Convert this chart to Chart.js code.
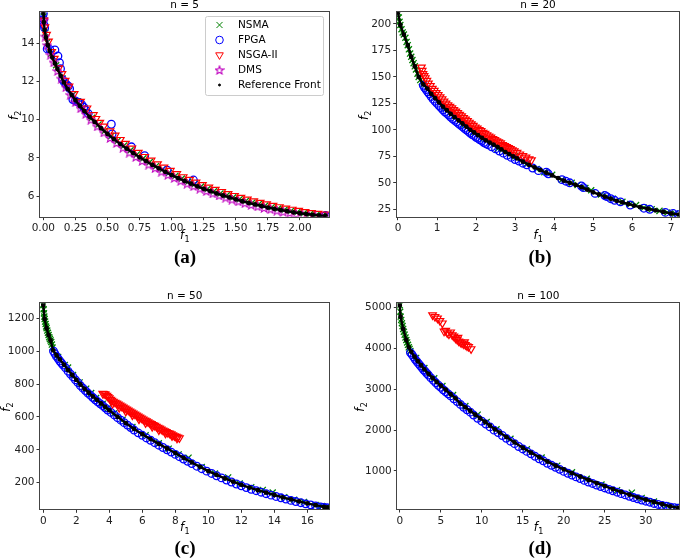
<!DOCTYPE html>
<html>
<head>
<meta charset="utf-8">
<script src="https://cdn.jsdelivr.net/npm/chart.js@4.4.1/dist/chart.umd.min.js"></script>
<style>
  html, body { margin: 0; padding: 0; background: #fff; }
  #wrap { position: relative; width: 685px; height: 559px; overflow: hidden; }
  #wrap canvas { position: absolute; left: 0; top: 0; }
  .cap { position: absolute; font: bold 19px "Liberation Serif", "DejaVu Serif", serif; color: #000;
         transform: translate(-50%, -50%); white-space: nowrap; }
</style>
</head>
<body>
<div id="wrap">
  <canvas id="pa" width="685" height="559"></canvas>
  <canvas id="pb" width="685" height="559"></canvas>
  <canvas id="pc" width="685" height="559"></canvas>
  <canvas id="pd" width="685" height="559"></canvas>
  <div class="cap" style="left:185px;top:257px">(a)</div>
  <div class="cap" style="left:540px;top:257px">(b)</div>
  <div class="cap" style="left:185px;top:548px">(c)</div>
  <div class="cap" style="left:540px;top:548px">(d)</div>
</div>
<script>
// ---- panel (a), n = 5 ----
var titleA = 'n = 5';
var xTicksA = [0, 0.25, 0.5, 0.75, 1.0, 1.25, 1.5, 1.75, 2.0];
var yTicksA = [6, 8, 10, 12, 14];
var xRangeA = [-0.026, 2.229];
var yRangeA = [4.92, 15.62];
var refA = [[0.000,15.60],[0.004,15.10],[0.010,14.70],[0.020,14.30],[0.035,13.90],[0.050,13.60],[0.070,13.25],[0.090,12.95],[0.110,12.65],[0.135,12.30],[0.160,11.95],[0.190,11.60],[0.220,11.30],[0.250,11.02],[0.285,10.72],[0.320,10.45],[0.360,10.15],[0.400,9.88],[0.450,9.55],[0.500,9.25],[0.550,8.98],[0.600,8.72],[0.650,8.48],[0.700,8.25],[0.750,8.03],[0.800,7.83],[0.850,7.63],[0.900,7.45],[0.950,7.27],[1.000,7.10],[1.050,6.94],[1.100,6.79],[1.150,6.65],[1.200,6.51],[1.250,6.38],[1.300,6.26],[1.350,6.14],[1.400,6.03],[1.450,5.93],[1.500,5.83],[1.550,5.73],[1.600,5.64],[1.650,5.56],[1.700,5.48],[1.750,5.40],[1.800,5.33],[1.850,5.27],[1.900,5.21],[1.950,5.15],[2.000,5.10],[2.050,5.06],[2.100,5.02],[2.150,4.99],[2.200,4.97]];
var nsmaA = [[0.002,15.40],[0.015,14.55],[0.030,14.05],[0.060,13.45],[0.100,12.85],[0.150,12.15],[0.180,11.80],[0.230,11.30],[0.270,10.95],[0.310,10.62],[0.380,10.10],[0.430,9.75],[0.480,9.42],[0.530,9.15],[0.580,8.90],[0.630,8.65],[0.680,8.40],[0.730,8.18],[0.780,7.98],[0.830,7.78],[0.880,7.58],[0.930,7.40],[0.980,7.22],[1.030,7.06],[1.080,6.92],[1.130,6.76],[1.180,6.63],[1.230,6.50],[1.280,6.37],[1.330,6.25],[1.380,6.14],[1.430,6.04],[1.480,5.94],[1.530,5.84],[1.580,5.75],[1.630,5.66],[1.680,5.58],[1.730,5.50],[1.780,5.42],[1.830,5.35],[1.880,5.28],[1.930,5.22],[1.980,5.16],[2.030,5.10],[2.080,5.06],[2.130,5.02],[2.180,4.99]];
var fpgaA = [[0.000,15.55],[0.003,15.25],[0.006,14.95],[0.010,14.80],[0.030,13.70],[0.050,13.68],[0.090,13.65],[0.114,13.33],[0.126,12.98],[0.134,12.67],[0.150,12.10],[0.165,11.95],[0.180,11.85],[0.195,11.75],[0.205,11.62],[0.230,11.05],[0.250,10.98],[0.270,10.92],[0.285,10.88],[0.300,10.78],[0.315,10.65],[0.330,10.50],[0.350,10.32],[0.530,9.76],[0.536,9.25],[0.687,8.58],[0.790,8.11],[0.965,7.36],[1.170,6.84],[2.200,4.98]];
var nsgaA = [[0.005,15.20],[0.012,14.85],[0.025,14.45],[0.040,14.10],[0.065,13.55],[0.085,13.20],[0.120,12.70],[0.145,12.40],[0.170,12.05],[0.200,11.75],[0.240,11.35],[0.290,10.95],[0.340,10.60],[0.390,10.25],[0.410,10.05],[0.440,9.85],[0.470,9.65],[0.520,9.40],[0.560,9.18],[0.600,8.95],[0.640,8.75],[0.690,8.50],[0.740,8.28],[0.790,8.06],[0.840,7.87],[0.890,7.68],[0.940,7.50],[0.990,7.33],[1.040,7.16],[1.090,7.00],[1.140,6.86],[1.190,6.72],[1.240,6.59],[1.290,6.46],[1.340,6.34],[1.390,6.23],[1.440,6.12],[1.490,6.02],[1.540,5.92],[1.590,5.83],[1.640,5.74],[1.690,5.66],[1.740,5.58],[1.790,5.50],[1.840,5.43],[1.890,5.36],[1.940,5.30],[1.990,5.24],[2.040,5.18],[2.090,5.12],[2.140,5.08],[2.190,5.04]];
var dmsA = [[0.003,15.20],[0.015,14.35],[0.030,13.90],[0.055,13.40],[0.080,13.00],[0.110,12.55],[0.140,12.15],[0.175,11.70],[0.210,11.30],[0.250,10.92],[0.290,10.60],[0.330,10.30],[0.370,10.00],[0.420,9.65],[0.470,9.33],[0.520,9.04],[0.570,8.78],[0.620,8.53],[0.670,8.28],[0.720,8.05],[0.770,7.84],[0.820,7.65],[0.870,7.46],[0.920,7.28],[0.970,7.11],[1.020,6.95],[1.070,6.80],[1.120,6.65],[1.170,6.52],[1.220,6.39],[1.270,6.26],[1.320,6.14],[1.370,6.03],[1.420,5.92],[1.470,5.82],[1.520,5.72],[1.570,5.63],[1.620,5.54],[1.670,5.46],[1.720,5.38],[1.770,5.31],[1.820,5.24],[1.870,5.18],[1.920,5.12],[1.970,5.06],[2.020,5.01],[2.070,4.97],[2.120,4.94],[2.170,4.93],[2.210,4.93]];

// ---- panel (b), n = 20 ----
var titleB = 'n = 20';
var xTicksB = [0, 1, 2, 3, 4, 5, 6, 7];
var yTicksB = [25, 50, 75, 100, 125, 150, 175, 200];
var xRangeB = [-0.033, 7.21];
var yRangeB = [18, 211];
var refB = [[0.00,211],[0.06,199],[0.15,190],[0.25,180],[0.34,169],[0.43,160],[0.53,150],[0.65,143],[0.75,139],[0.85,134],[0.95,130],[1.05,126],[1.15,122],[1.25,118.5],[1.35,115],[1.45,112],[1.55,109],[1.65,106],[1.75,103],[1.85,100],[1.95,97.5],[2.05,95],[2.15,92.5],[2.25,90],[2.35,88],[2.45,86],[2.55,84],[2.65,81.5],[2.75,79],[2.85,77],[2.95,75],[3.05,73],[3.2,70],[3.35,67],[3.5,64.5],[3.65,62],[3.8,59.5],[3.95,57],[4.1,54.5],[4.25,52],[4.4,50],[4.55,48],[4.7,46],[4.85,43.5],[5.0,41],[5.15,39],[5.3,37],[5.45,35],[5.6,33],[5.75,31.5],[5.9,30],[6.05,28.5],[6.2,27],[6.4,25.5],[6.6,24],[6.8,22.5],[7.0,21],[7.2,20]];
var nsmaB = [[0.00,211],[0.02,206],[0.04,202],[0.06,199],[0.09,195],[0.12,192],[0.15,190],[0.19,187],[0.22,183],[0.25,180],[0.28,176],[0.31,172],[0.34,169],[0.37,166],[0.40,163],[0.43,160],[0.46,157],[0.50,153],[0.53,150],[0.57,147],[0.61,145],[0.66,143],[0.9,133],[1.2,121],[1.45,113],[1.7,105],[1.95,98],[2.2,92],[2.4,88],[2.55,82],[2.75,80],[3.0,75],[3.3,68],[3.55,63],[3.75,60],[3.95,57.5],[4.2,53],[4.45,50],[4.6,48],[4.8,45],[4.95,43],[5.2,39],[5.35,37],[5.5,35],[5.75,32],[5.95,30],[6.1,29],[6.3,26.5],[6.5,25],[6.7,23.5],[6.9,22],[7.1,21]];
var fpgaB = [[0.65,142],[0.68,140],[0.72,138],[0.76,136],[0.80,134],[0.85,131.5],[0.90,129],[0.95,127],[1.00,125],[1.05,123],[1.10,121],[1.15,119],[1.20,117],[1.25,115.5],[1.30,114],[1.35,112],[1.40,110.5],[1.45,109],[1.50,107.5],[1.55,106],[1.60,104.5],[1.65,103],[1.70,101.5],[1.75,100],[1.80,98.5],[1.85,97],[1.90,95.5],[1.95,94.5],[2.00,93],[2.05,92],[2.10,90.5],[2.15,89.5],[2.20,88],[2.25,87],[2.30,86],[2.40,84],[2.50,82],[2.60,80],[2.70,78],[2.80,76],[2.90,74],[3.00,72],[3.10,70.5],[3.20,68.5],[3.30,67],[3.45,64],[3.60,61.5],[3.80,60],[3.85,58.5],[4.20,53],[4.30,51.5],[4.40,50],[4.70,47],[4.75,45.5],[5.05,40],[5.30,38],[5.35,37],[5.45,35],[5.55,33.5],[5.70,32],[5.95,29],[6.30,26],[6.45,25],[6.85,22],[7.05,21],[7.18,20]];
var nsgaB = [[0.60,159],[0.62,156],[0.64,153],[0.67,151],[0.70,149],[0.74,146.5],[0.78,144],[0.83,141.5],[0.88,139],[0.93,137],[0.98,135],[1.03,133],[1.08,131],[1.13,129],[1.18,127],[1.23,125],[1.28,123.5],[1.33,122],[1.38,120.5],[1.43,119],[1.48,117.5],[1.53,116],[1.58,114.5],[1.63,113],[1.68,111.5],[1.73,110],[1.78,108.5],[1.83,107],[1.88,105.5],[1.93,104],[1.98,102.5],[2.03,101.5],[2.08,100],[2.13,99],[2.18,97.5],[2.23,96.5],[2.28,95],[2.33,94],[2.38,93],[2.43,91.5],[2.48,90.5],[2.53,89.5],[2.58,88.5],[2.63,87.5],[2.68,86],[2.73,85],[2.78,84],[2.83,83],[2.88,82],[2.93,81],[2.98,80],[3.05,78.5],[3.12,77],[3.2,75.5],[3.28,74],[3.36,72.5],[3.42,71.5]];

// ---- panel (c), n = 50 ----
var titleC = 'n = 50';
var xTicksC = [0, 2, 4, 6, 8, 10, 12, 14, 16];
var yTicksC = [200, 400, 600, 800, 1000, 1200];
var xRangeC = [-0.2, 17.33];
var yRangeC = [38, 1291];
var refC = [[0.00,1280],[0.08,1195],[0.20,1140],[0.32,1098],[0.44,1065],[0.6,1005],[0.8,975],[1.0,950],[1.25,918],[1.5,885],[1.75,855],[2.0,825],[2.25,797],[2.5,770],[2.75,747],[3.0,725],[3.25,703],[3.5,682],[3.75,661],[4.0,640],[4.5,600],[5.0,562],[5.5,527],[6.0,495],[6.5,465],[7.0,436],[7.5,408],[8.0,380],[8.5,351],[9.0,323],[9.5,296],[10.0,270],[10.5,247],[11.0,226],[11.5,206],[12.0,187],[12.5,170],[13.0,154],[13.5,139],[14.0,125],[14.5,111],[15.0,98],[15.5,86],[16.0,74],[16.5,63],[17.0,53],[17.2,49]];
var nsmaC = [[0.00,1280],[0.02,1255],[0.04,1230],[0.06,1210],[0.08,1195],[0.11,1180],[0.14,1165],[0.17,1150],[0.20,1140],[0.24,1125],[0.28,1112],[0.32,1098],[0.36,1085],[0.40,1075],[0.44,1065],[0.48,1055],[0.52,1040],[0.56,1022],[0.9,965],[1.3,915],[1.5,900],[1.8,855],[2.2,810],[2.6,772],[2.9,745],[3.2,715],[3.6,680],[3.9,652],[4.3,622],[4.8,582],[5.4,538],[6.2,488],[7.0,440],[7.6,407],[8.2,372],[8.8,352],[9.6,295],[10.4,256],[11.2,232],[11.9,195],[12.6,172],[13.3,156],[13.9,140],[14.6,112],[15.2,96],[15.8,83],[16.5,64],[16.9,58],[17.2,52]];
var fpgaC = [[0.62,1000],[0.7,985],[0.8,968],[0.9,955],[1.0,940],[1.1,928],[1.2,915],[1.35,898],[1.5,878],[1.65,860],[1.8,843],[1.95,825],[2.1,808],[2.25,790],[2.4,775],[2.55,760],[2.7,745],[2.85,732],[3.0,718],[3.15,704],[3.3,692],[3.45,680],[3.6,668],[3.75,655],[3.9,642],[4.1,627],[4.3,612],[4.5,595],[4.7,580],[4.9,565],[5.1,550],[5.3,535],[5.5,520],[5.75,503],[6.0,488],[6.25,472],[6.5,458],[6.75,443],[7.0,428],[7.25,414],[7.5,400],[7.75,386],[8.0,372],[8.25,358],[8.5,344],[8.75,330],[9.0,316],[9.3,300],[9.6,285],[9.9,270],[10.2,256],[10.5,242],[10.8,229],[11.1,216],[11.4,204],[11.7,192],[12.0,181],[12.3,170],[12.6,160],[12.9,151],[13.2,142],[13.5,133],[13.8,124],[14.1,116],[14.4,108],[14.7,100],[15.0,92],[15.3,85],[15.6,78],[15.9,71],[16.2,65],[16.5,59],[16.8,53],[17.0,50],[17.2,47]];
var nsgaC = [[3.60,742],[3.68,740],[3.76,738],[3.85,730],[3.92,722],[4.00,714],[4.08,706],[4.15,700],[4.25,694],[4.35,688],[4.45,682],[4.55,676],[4.65,670],[4.75,664],[4.85,658],[4.95,652],[5.05,646],[5.15,640],[5.25,634],[5.35,628],[5.45,622],[5.55,616],[5.65,610],[5.75,604],[5.85,598],[5.95,592],[6.05,586],[6.15,580],[6.25,575],[6.35,569],[6.45,563],[6.55,558],[6.65,552],[6.75,547],[6.85,541],[6.95,536],[7.05,530],[7.15,524],[7.25,519],[7.35,514],[7.45,509],[7.55,504],[7.65,500],[7.75,496],[7.85,489],[7.95,484],[8.05,480],[8.15,476],[8.25,472],[4.2,680],[4.6,656],[5.0,633],[5.4,610],[5.8,586],[6.2,563],[6.6,540],[7.0,520],[7.4,500],[7.8,484],[8.1,470]];

// ---- panel (d), n = 100 ----
var titleD = 'n = 100';
var xTicksD = [0, 5, 10, 15, 20, 25, 30];
var yTicksD = [1000, 2000, 3000, 4000, 5000];
var xRangeD = [-0.3, 34.1];
var yRangeD = [69, 5108];
var refD = [[0.00,5060],[0.10,4780],[0.42,4480],[0.80,4210],[1.10,4030],[1.4,3920],[1.8,3800],[2.2,3690],[2.6,3590],[3.0,3490],[3.5,3380],[4.0,3280],[4.5,3180],[5.0,3090],[5.6,2990],[6.2,2880],[6.8,2780],[7.4,2650],[8.0,2560],[8.6,2470],[9.2,2380],[9.8,2290],[10.4,2200],[11.0,2110],[11.6,2020],[12.2,1940],[13.0,1830],[14.0,1700],[15.0,1570],[16.0,1450],[17.0,1340],[18.0,1230],[19.0,1130],[20.0,1040],[21.0,950],[22.0,860],[23.0,780],[24.0,705],[25.0,630],[26.0,555],[27.0,485],[28.0,420],[29.0,355],[30.0,295],[31.0,240],[32.0,185],[33.0,135],[34.0,95]];
var nsmaD = [[0.00,5060],[0.05,4900],[0.10,4780],[0.18,4700],[0.26,4620],[0.34,4550],[0.42,4480],[0.50,4410],[0.60,4340],[0.70,4270],[0.80,4210],[0.90,4150],[1.00,4090],[1.10,4030],[1.20,3990],[1.30,3940],[2.0,3770],[3.0,3520],[4.2,3270],[5.2,3080],[6.5,2860],[8.0,2590],[9.5,2380],[10.6,2200],[11.8,2020],[13.5,1790],[15.5,1530],[17.3,1330],[19.2,1130],[21.0,970],[22.8,810],[24.6,670],[26.5,530],[28.3,470],[29.5,340],[31.0,250],[32.5,160],[33.6,120],[34.0,110]];
var fpgaD = [[1.3,3900],[1.5,3850],[1.7,3790],[1.9,3730],[2.1,3680],[2.3,3630],[2.5,3580],[2.7,3530],[2.9,3480],[3.1,3440],[3.3,3390],[3.5,3350],[3.8,3280],[4.1,3220],[4.4,3160],[4.7,3100],[5.0,3050],[5.3,2990],[5.6,2940],[5.9,2890],[6.2,2840],[6.6,2770],[7.0,2700],[7.4,2630],[7.8,2560],[8.2,2500],[8.6,2440],[9.0,2370],[9.5,2290],[10.0,2220],[10.5,2150],[11.0,2080],[11.5,2000],[12.0,1940],[12.5,1870],[13.0,1800],[13.5,1730],[14.0,1670],[14.5,1600],[15.0,1540],[15.5,1480],[16.0,1420],[16.5,1360],[17.0,1300],[17.5,1250],[18.0,1190],[18.5,1140],[19.0,1090],[19.5,1040],[20.0,990],[20.5,945],[21.0,900],[21.5,855],[22.0,815],[22.5,770],[23.0,730],[23.5,695],[24.0,655],[24.5,620],[25.0,585],[25.5,550],[26.0,515],[26.5,480],[27.0,445],[27.5,415],[28.0,380],[28.5,350],[29.0,320],[29.5,290],[30.0,260],[30.5,235],[31.0,205],[31.5,180],[32.0,155],[32.5,135],[33.0,115],[33.5,100],[34.0,90]];
var nsgaD = [[4.0,4820],[4.3,4780],[4.6,4740],[4.9,4680],[5.2,4620],[5.4,4420],[5.6,4440],[5.8,4380],[6.0,4350],[6.2,4400],[6.4,4330],[6.6,4300],[6.8,4250],[7.0,4220],[7.1,4270],[7.2,4180],[7.4,4150],[7.6,4130],[7.8,4110],[7.9,4160],[8.0,4090],[8.2,4060],[8.4,4045],[8.7,3990]];

var legendNames = ['NSMA', 'FPGA', 'NSGA-II', 'DMS', 'Reference Front'];

var COLORS = { nsma: '#008000', fpga: '#0000ff', nsga: '#ff0000', dms: '#bf00bf', ref: '#000000' };
var FONT = '"DejaVu Sans", "Liberation Sans", sans-serif';

Chart.defaults.font.family = FONT;
Chart.defaults.animation = false;

// matplotlib '*' marker, hollow
function makeStar() {
    var c = document.createElement('canvas');
    c.width = 10; c.height = 10;
    var g = c.getContext('2d');
    g.strokeStyle = COLORS.dms;
    g.lineWidth = 1.1;
    g.beginPath();
    for (var i = 0; i < 10; i++) {
        var r = i % 2 ? 1.9 : 4.4;
        var ang = -Math.PI / 2 + i * Math.PI / 5;
        var px = 5 + r * Math.cos(ang), py = 5.4 + r * Math.sin(ang);
        if (i === 0) g.moveTo(px, py); else g.lineTo(px, py);
    }
    g.closePath();
    g.stroke();
    return c;
}
var starImg = makeStar();

function styleFor(key) {
    if (key === 'nsma') return { pointStyle: 'crossRot', pointRadius: 4.3, borderWidth: 1.3, borderColor: COLORS.nsma, backgroundColor: 'rgba(0,0,0,0)', order: 5 };
    if (key === 'fpga') return { pointStyle: 'circle', pointRadius: 3.8, borderWidth: 1.3, borderColor: COLORS.fpga, backgroundColor: 'rgba(0,0,0,0)', order: 4 };
    if (key === 'nsga') return { pointStyle: 'triangle', rotation: 180, pointRadius: 4.4, borderWidth: 1.2, borderColor: COLORS.nsga, backgroundColor: 'rgba(0,0,0,0)', order: 3 };
    if (key === 'dms') return { pointStyle: starImg, pointRadius: 4, borderWidth: 1, borderColor: COLORS.dms, backgroundColor: COLORS.dms, order: 2 };
    return { pointStyle: 'circle', pointRadius: 1.2, borderWidth: 2.4, borderColor: COLORS.ref, backgroundColor: COLORS.ref, showLine: true, order: 1 };
}

function dataset(key, label, pts) {
    var ds = styleFor(key);
    ds.label = label;
    ds.data = pts;
    ds.pointHoverRadius = ds.pointRadius;
    return ds;
}

function drawSubLabel(ctx, base, sub, x, y, vertical) {
    ctx.save();
    ctx.translate(x, y);
    if (vertical) ctx.rotate(-Math.PI / 2);
    ctx.font = 'italic 11.5px ' + FONT;
    var w1 = ctx.measureText(base).width;
    ctx.font = '8px ' + FONT;
    var w2 = ctx.measureText(sub).width;
    var x0 = -(w1 + w2) / 2;
    ctx.fillStyle = '#000';
    ctx.textBaseline = 'alphabetic';
    ctx.textAlign = 'left';
    ctx.font = 'italic 11.5px ' + FONT;
    ctx.fillText(base, x0, 3);
    ctx.font = '8px ' + FONT;
    ctx.fillText(sub, x0 + w1 + 0.3, 6);
    ctx.restore();
}

function drawLegend(chart) {
    var ctx = chart.ctx;
    var x = 205, y = 16, w = 118, h = 79;
    ctx.save();
    ctx.fillStyle = 'rgba(255,255,255,0.85)';
    ctx.strokeStyle = '#cccccc';
    ctx.lineWidth = 1;
    ctx.beginPath();
    if (ctx.roundRect) ctx.roundRect(x + 0.5, y + 0.5, w, h, 2); else ctx.rect(x + 0.5, y + 0.5, w, h);
    ctx.fill();
    ctx.stroke();
    ctx.font = '10.5px ' + FONT;
    ctx.textBaseline = 'middle';
    ctx.textAlign = 'left';
    var keys = ['nsma', 'fpga', 'nsga', 'dms', 'ref'];
    for (var i = 0; i < keys.length; i++) {
        var cy = y + 9 + i * 15;
        var s = styleFor(keys[i]);
        ctx.strokeStyle = s.borderColor;
        ctx.fillStyle = s.backgroundColor;
        ctx.lineWidth = 1;
        if (keys[i] === 'dms') {
            ctx.drawImage(starImg, 219.5 - 5, cy - 5);
        } else {
            Chart.helpers.drawPoint(ctx, {
                pointStyle: s.pointStyle, radius: keys[i] === 'ref' ? 1 : s.pointRadius,
                rotation: s.rotation || 0, borderWidth: 1
            }, 219.5, cy);
        }
        ctx.fillStyle = '#000';
        ctx.fillText(legendNames[i], 238, cy + 0.5);
    }
    ctx.restore();
}

var panelDecor = {
    id: 'panelDecor',
    afterDraw: function (chart) {
        var o = chart.options.plugins.panelDecor;
        var a = chart.chartArea, ctx = chart.ctx;
        ctx.save();
        ctx.strokeStyle = '#444';
        ctx.lineWidth = 1;
        ctx.strokeRect(Math.round(a.left) - 0.5, Math.round(a.top) - 0.5,
            Math.round(a.right) - Math.round(a.left) + 1, Math.round(a.bottom) - Math.round(a.top) + 1);
        ctx.fillStyle = '#000';
        ctx.font = '10.5px ' + FONT;
        ctx.textAlign = 'center';
        ctx.textBaseline = 'alphabetic';
        ctx.fillText(o.title, (a.left + a.right) / 2, a.top - 4.5);
        ctx.restore();
        drawSubLabel(ctx, 'f', '1', (a.left + a.right) / 2, a.bottom + 19, false);
        drawSubLabel(ctx, 'f', '2', o.yTitleX, (a.top + a.bottom) / 2 + 1, true);
        if (o.legend) drawLegend(chart);
    }
};

function axis(isX, ticksArr, range, fmt) {
    return {
        type: 'linear',
        position: isX ? 'bottom' : 'left',
        min: range[0],
        max: range[1],
        afterBuildTicks: function (s) {
            s.ticks = ticksArr.map(function (v) { return { value: v }; });
        },
        afterFit: function (s) {
            if (isX) s.height = 30; else s.width = 40;
        },
        grid: { drawOnChartArea: false, drawTicks: true, tickLength: 3.5, tickColor: '#333', lineWidth: 1 },
        border: { display: false },
        ticks: {
            color: '#222', padding: 2, maxRotation: 0, autoSkip: false,
            font: { family: FONT, size: 10.5 },
            callback: function (v) { return fmt ? fmt(v) : String(v); }
        }
    };
}

// area = [left, top, right, bottom] of the plot box on the 685x559 page
function makePanel(id, area, title, yTitleX, xTicks, yTicks, xRange, yRange, xFmt, sets, legend) {
    var cv = document.getElementById(id);
    return new Chart(cv, {
        type: 'scatter',
        data: { datasets: sets },
        options: {
            responsive: false,
            devicePixelRatio: 1,
            events: [],
            layout: { padding: { left: area[0] - 40, top: area[1], right: 685 - area[2], bottom: 559 - area[3] - 30 } },
            scales: {
                x: axis(true, xTicks, xRange, xFmt),
                y: axis(false, yTicks, yRange, null)
            },
            plugins: {
                legend: { display: false },
                tooltip: { enabled: false },
                title: { display: false },
                panelDecor: { title: title, yTitleX: yTitleX, legend: !!legend }
            }
        },
        plugins: [panelDecor]
    });
}

function fix2(v) { return v.toFixed(2); }

makePanel('pa', [40, 12.3, 329.3, 216.7], titleA, 15, xTicksA, yTicksA, xRangeA, yRangeA, fix2, [
    dataset('nsma', 'NSMA', nsmaA),
    dataset('fpga', 'FPGA', fpgaA),
    dataset('nsga', 'NSGA-II', nsgaA),
    dataset('dms', 'DMS', dmsA),
    dataset('ref', 'Reference Front', refA)
], true);

makePanel('pb', [396.7, 12.3, 684, 216.7], titleB, 365, xTicksB, yTicksB, xRangeB, yRangeB, null, [
    dataset('nsma', 'NSMA', nsmaB),
    dataset('fpga', 'FPGA', fpgaB),
    dataset('nsga', 'NSGA-II', nsgaB),
    dataset('ref', 'Reference Front', refB)
]);

makePanel('pc', [40, 303.3, 329.3, 509.3], titleC, 7, xTicksC, yTicksC, xRangeC, yRangeC, null, [
    dataset('nsma', 'NSMA', nsmaC),
    dataset('fpga', 'FPGA', fpgaC),
    dataset('nsga', 'NSGA-II', nsgaC),
    dataset('ref', 'Reference Front', refC)
]);

makePanel('pd', [397.3, 303.3, 684, 509], titleD, 361, xTicksD, yTicksD, xRangeD, yRangeD, null, [
    dataset('nsma', 'NSMA', nsmaD),
    dataset('fpga', 'FPGA', fpgaD),
    dataset('nsga', 'NSGA-II', nsgaD),
    dataset('ref', 'Reference Front', refD)
]);
</script>
</body>
</html>
